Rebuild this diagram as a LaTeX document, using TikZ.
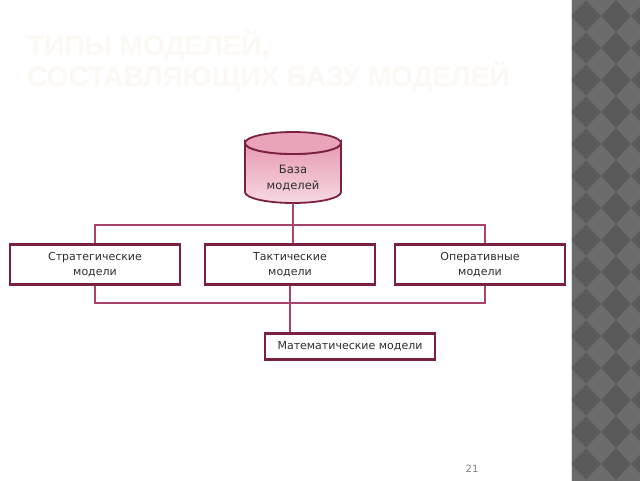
\documentclass[tikz,border=0pt]{standalone}
\usepackage{fontspec}
\setmainfont{DejaVu Sans}
\newfontfamily\titlefont{Liberation Sans}
\definecolor{boxline}{HTML}{7A2142}
\definecolor{conline}{HTML}{A8446C}
\definecolor{txt}{HTML}{2E2E2E}
\definecolor{titlec}{HTML}{FCF9F4}
\definecolor{stripA}{HTML}{5A5A5A}
\definecolor{stripB}{HTML}{6B6B6B}
\definecolor{cylTop}{HTML}{E79AB1}
\definecolor{cylBot}{HTML}{F6D9E2}
\tikzset{
  mbox/.style={draw=boxline, line width=2.4pt, fill=white, text=txt, align=center,
    font=\fontsize{11}{15}\selectfont, inner sep=0pt},
  conn/.style={draw=conline, line width=1.5pt},
}
\begin{document}
\begin{tikzpicture}[x=1pt,y=-1pt]
\useasboundingbox (0,0) rectangle (640,480);
\fill[white] (-2,-2) rectangle (642,482);
% right patterned strip
\fill[stripA] (571,-2) rectangle (642,482);
\begin{scope}
\clip (571,-2) rectangle (642,482);
\foreach \i in {0,...,3} {
  \foreach \j in {0,...,16} {
    \fill[stripB] ({556+\i*30},{\j*32}) -- ++(15,-16) -- ++(15,16) -- ++(-15,16) -- cycle;
  }
}
\end{scope}
\draw[white!75!gray, line width=0.8pt] (571,-2) -- (571,482);
% title
\node[anchor=north west, align=left, text=titlec, inner sep=0pt,
  font=\titlefont\bfseries\fontsize{28}{31}\selectfont] (title) at (27,30)
  {ТИПЫ МОДЕЛЕЙ,\\СОСТАВЛЯЮЩИХ БАЗУ МОДЕЛЕЙ};
% cylinder
\shade[top color=cylTop, bottom color=cylBot, draw=boxline, line width=1.8pt]
  (245,143) -- (245,192) arc (180:0:48 and 11) -- (341,143) arc (0:180:48 and 11) -- cycle;
\fill[cylTop!90!white, draw=boxline, line width=1.8pt] (293,143) ellipse (48 and 11);
\node[text=txt, align=center, font=\fontsize{11.5}{16}\selectfont, inner sep=0pt,
  minimum width=96, minimum height=50] (db) at (293,178) {База\\моделей};
\coordinate (dbbot) at (293,203);
% box positions
\node[mbox, minimum width=170, minimum height=40] (strat) at (95,264.5) {Стратегические\\модели};
\node[mbox, minimum width=170, minimum height=40] (takt) at (290,264.5) {Тактические\\модели};
\node[mbox, minimum width=170, minimum height=40] (oper) at (480,264.5) {Оперативные\\модели};
\node[mbox, minimum width=170, minimum height=26] (math) at (350,346.5) {Математические модели};
% connectors top
\coordinate (jt) at (293,225);
\draw[conn] (dbbot) -- (jt);
\draw[conn] (strat.north) -- (95,225) -- (485,225) -- (485,243.5);
\draw[conn] (jt) -- (293,243.5);
% connectors bottom
\draw[conn] (strat.south) -- (95,303) -- (485,303) -- (485,285.5);
\draw[conn] (takt.south) -- (290,303) -- (290,332.5);
% redraw boxes above lines
\node[mbox, minimum width=170, minimum height=40] at (strat) {Стратегические\\модели};
\node[mbox, minimum width=170, minimum height=40] at (takt) {Тактические\\модели};
\node[mbox, minimum width=170, minimum height=40] at (oper) {Оперативные\\модели};
\node[mbox, minimum width=170, minimum height=26] at (math) {Математические модели};
% page number
\node[text=gray, font=\fontsize{10}{12}\selectfont, inner sep=0pt] (pg) at (472,469) {21};
\end{tikzpicture}
\end{document}
